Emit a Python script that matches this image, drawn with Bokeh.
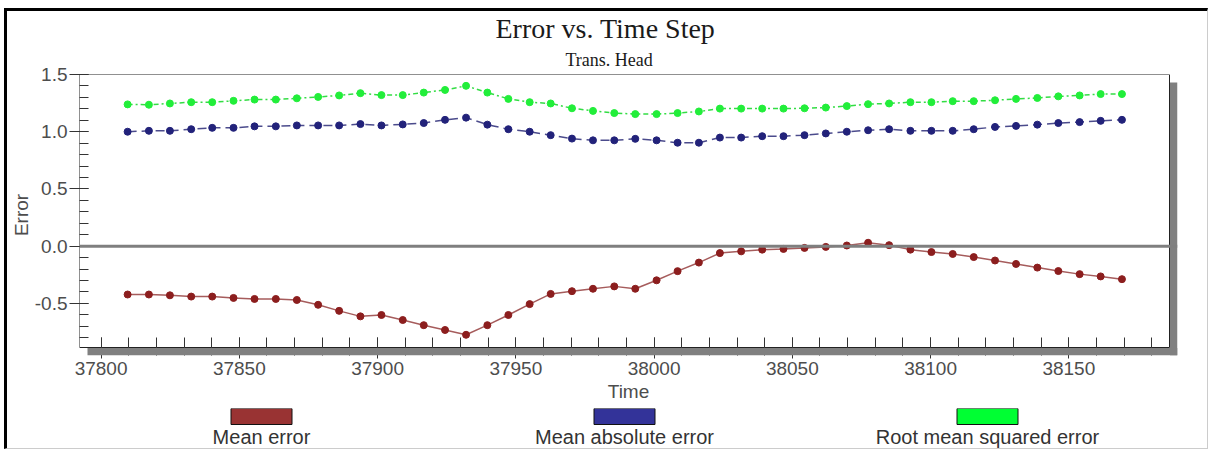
import numpy as np
from bokeh.plotting import figure
from bokeh.layouts import column
from bokeh.models import (Range1d, FixedTicker, NumeralTickFormatter, Span,
                          BoxAnnotation, Title, ColumnDataSource)
from bokeh.embed import file_html
from bokeh.resources import INLINE
from bokeh.core.properties import value

# ---------------- data ----------------
times = [37809.6, 37817.3, 37824.9, 37832.6, 37840.2, 37847.9, 37855.5, 37863.2,
         37870.8, 37878.5, 37886.1, 37893.8, 37901.4, 37909.1, 37916.7, 37924.4,
         37932.0, 37939.7, 37947.3, 37955.0, 37962.6, 37970.3, 37977.9, 37985.6,
         37993.2, 38000.9, 38008.5, 38016.2, 38023.8, 38031.5, 38039.1, 38046.8,
         38054.4, 38062.1, 38069.7, 38077.4, 38085.0, 38092.7, 38100.3, 38108.0,
         38115.6, 38123.3, 38130.9, 38138.6, 38146.2, 38153.9, 38161.5, 38169.2]

mean_error = [-0.422, -0.422, -0.429, -0.440, -0.440, -0.452, -0.461, -0.461,
              -0.470, -0.512, -0.565, -0.613, -0.601, -0.645, -0.690, -0.732,
              -0.774, -0.690, -0.601, -0.506, -0.417, -0.393, -0.372, -0.351,
              -0.372, -0.298, -0.218, -0.143, -0.060, -0.045, -0.030, -0.024,
              -0.015, -0.006, 0.006, 0.030, 0.009, -0.030, -0.051, -0.068,
              -0.095, -0.125, -0.155, -0.187, -0.217, -0.244, -0.264, -0.288]

mean_abs_error = [1.000, 1.008, 1.008, 1.022, 1.034, 1.034, 1.047, 1.047,
                  1.055, 1.055, 1.055, 1.067, 1.055, 1.064, 1.076, 1.104,
                  1.123, 1.062, 1.022, 1.000, 0.970, 0.940, 0.925, 0.925,
                  0.938, 0.925, 0.904, 0.904, 0.949, 0.949, 0.961, 0.961,
                  0.970, 0.985, 1.000, 1.013, 1.022, 1.008, 1.008, 1.008,
                  1.022, 1.042, 1.051, 1.062, 1.076, 1.084, 1.095, 1.104]

rms_error = [1.239, 1.236, 1.247, 1.258, 1.258, 1.270, 1.281, 1.281,
             1.292, 1.304, 1.317, 1.337, 1.320, 1.320, 1.342, 1.365,
             1.401, 1.342, 1.287, 1.258, 1.247, 1.205, 1.182, 1.163,
             1.154, 1.154, 1.163, 1.177, 1.202, 1.202, 1.202, 1.202,
             1.205, 1.211, 1.224, 1.241, 1.247, 1.258, 1.258, 1.267,
             1.267, 1.275, 1.287, 1.295, 1.309, 1.317, 1.329, 1.329]

series_names = ["Mean error", "Mean absolute error", "Root mean squared error"]
x_ticks = [37800, 37850, 37900, 37950, 38000, 38050, 38100, 38150]
x_tick_labels = ["37800", "37850", "37900", "37950", "38000", "38050", "38100", "38150"]
y_ticks = [-0.5, 0.0, 0.5, 1.0, 1.5]
y_tick_labels = ["-0.5", "0.0", "0.5", "1.0", "1.5"]

# ---------------- styles / geometry ----------------
SANS = "Liberation Sans"
SERIF = "Liberation Serif"
line_colors = ["#a65c5c", "#4b4b8c", "#33dd44"]
marker_colors = ["#8c1e1e", "#22227a", "#22ee3a"]
swatch_colors = ["#993333", "#333399", "#00ff33"]
line_dashes = ["solid", "9 5", "5 3 2 3"]

X0, X1 = 37792.2, 38186.4      # visible plot box (data units)
Y0, Y1 = -0.885, 1.5
BOX_W, BOX_H = 1090, 273       # plot box size in px
SH = 8                         # drop-shadow offset in px
dx = SH * (X1 - X0) / BOX_W
dy = SH * (Y1 - Y0) / BOX_H

W = 1200
MBL, MBR, MBT, MBB = 72, 30, 63, 53
H1 = MBT + BOX_H + SH + MBB
LH = 40

p = figure(width=W, height=H1,
           x_range=Range1d(X0, X1 + dx), y_range=Range1d(Y0 - dy, Y1),
           output_backend="svg", toolbar_location=None, title=None,
           min_border_left=MBL, min_border_right=MBR, min_border_top=MBT,
           min_border_bottom=MBB,
           background_fill_color="white", border_fill_color="white")
p.outline_line_color = None
p.grid.visible = False

# plot box with frame line
p.quad(left=[X0], right=[X1], bottom=[Y0], top=[Y1], fill_color="white",
       line_color="#222222", line_width=1)
# drop shadow (drawn above the tick marks, as in the original)
sh_kw = dict(fill_color="#808080", fill_alpha=1.0, line_color=None, level="annotation")
p.add_layout(BoxAnnotation(left=X1 + dx / 16, right=X1 + dx,
                           bottom=Y0 - dy, top=Y1 - dy, **sh_kw))
p.add_layout(BoxAnnotation(left=X0 + dx, right=X1 + dx,
                           bottom=Y0 - dy, top=Y0 - dy / 16, **sh_kw))

p.add_layout(Span(location=0, dimension="width", line_color="#7f7f7f", line_width=3))

series = [mean_error, mean_abs_error, rms_error]
for vals, lc, mc, dash in zip(series, line_colors, marker_colors, line_dashes):
    src = ColumnDataSource(dict(t=times, v=vals))
    p.line("t", "v", source=src, line_color=lc, line_width=1.5, line_dash=dash)
    p.scatter("t", "v", source=src, marker="circle", size=7,
              fill_color=mc, line_color=mc)

# axes
p.xaxis.ticker = FixedTicker(ticks=x_ticks,
                             minor_ticks=list(np.arange(37800, 38190, 10)))
p.xaxis.major_label_overrides = dict(zip(x_ticks, x_tick_labels))
p.yaxis.ticker = FixedTicker(ticks=y_ticks,
                             minor_ticks=list(np.round(np.arange(-0.8, 1.55, 0.1), 2)))
p.yaxis.formatter = NumeralTickFormatter(format="0.0")
p.yaxis.major_label_overrides = dict(zip(y_ticks, y_tick_labels))

for ax in (p.xaxis[0], p.yaxis[0]):
    ax.axis_line_color = None
    ax.major_tick_line_color = "#333333"
    ax.minor_tick_line_color = "#333333"
    ax.major_label_text_font = SANS
    ax.major_label_text_font_size = "19px"
    ax.major_label_text_color = "#4d4d4d"
    ax.axis_label_text_font = SANS
    ax.axis_label_text_font_style = "normal"
    ax.axis_label_text_color = "#4d4d4d"

p.xaxis.axis_label = "Time"
p.xaxis.axis_label_text_font_size = "19px"
p.xaxis.major_tick_out = 3
p.xaxis.major_tick_in = 18
p.xaxis.minor_tick_in = 18
p.xaxis.minor_tick_out = 0
p.xaxis.major_label_standoff = 3
p.xaxis.axis_label_standoff = 3

p.yaxis.axis_label = "Error"
p.yaxis.axis_label_text_font_size = "19px"
p.yaxis.major_tick_out = 10
p.yaxis.major_tick_in = 9
p.yaxis.minor_tick_in = 9
p.yaxis.minor_tick_out = 0
p.yaxis.major_label_standoff = 2
p.yaxis.axis_label_standoff = 0

# titles (subtitle first: it sits closest to the plot)
sub = Title(text="Trans. Head", text_font=SERIF, text_font_size="18px",
            text_font_style="normal", text_color="#1a1a1a",
            align="left", offset=486, standoff=10)
main = Title(text="Error vs. Time Step", text_font=SERIF, text_font_size="28px",
             text_font_style="normal", text_color="#1a1a1a",
             align="left", offset=416, standoff=0)
try:
    main.standoff = -2
except Exception:
    main.standoff = 0
p.add_layout(sub, "above")
p.add_layout(main, "above")

# ---------------- legend strip (frame aligned with the plot frame) ----------------
FW = W - MBL - MBR
lf = figure(width=W, height=LH, x_range=Range1d(0, FW), y_range=Range1d(0, LH),
            x_axis_type=None, y_axis_type=None, toolbar_location=None,
            output_backend="svg", min_border_left=MBL, min_border_right=MBR,
            min_border_top=0, min_border_bottom=0, outline_line_color=None,
            background_fill_color="white", border_fill_color="white")
lf.grid.visible = False
box_center = BOX_W / 2
spacing = 363
centers = [box_center + (i - 1) * spacing for i in range(len(series_names))]
lf.rect(x=centers, y=[32] * 3, width=61, height=16,
        fill_color=swatch_colors, line_color="#111111", line_width=1)
lf.text(x=centers, y=[12] * 3, text=series_names, text_align="center",
        text_baseline="middle", text_font=value(SANS),
        text_font_size="20px", text_color="#333333")

layout = column(p, lf, margin=(8, 0, 0, 4),
                styles={"border-top": "3px solid black",
                        "border-left": "3px solid black",
                        "border-right": "1px solid #cccccc",
                        "border-bottom": "1px solid #cccccc"})

open("out.html", "w").write(file_html(layout, INLINE))
